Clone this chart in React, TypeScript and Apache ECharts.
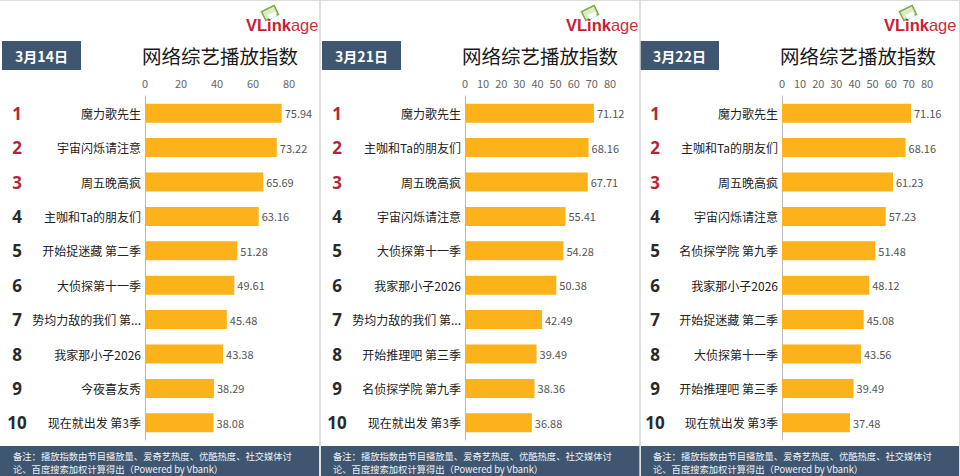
import React, { useEffect, useRef } from "react";
import * as echarts from "echarts";

const dates = ["3月14日", "3月21日", "3月22日"];
const ranks = ["1", "2", "3", "4", "5", "6", "7", "8", "9", "10"];

const names14 = ["魔力歌先生", "宇宙闪烁请注意", "周五晚高疯", "主咖和Ta的朋友们", "开始捉迷藏 第二季", "大侦探第十一季", "势均力敌的我们 第...", "我家那小子2026", "今夜喜友秀", "现在就出发 第3季"];
const values14 = [75.94, 73.22, 65.69, 63.16, 51.28, 49.61, 45.48, 43.38, 38.29, 38.08];

const names21 = ["魔力歌先生", "主咖和Ta的朋友们", "周五晚高疯", "宇宙闪烁请注意", "大侦探第十一季", "我家那小子2026", "势均力敌的我们 第...", "开始推理吧 第三季", "名侦探学院 第九季", "现在就出发 第3季"];
const values21 = [71.12, 68.16, 67.71, 55.41, 54.28, 50.38, 42.49, 39.49, 38.36, 36.88];

const names22 = ["魔力歌先生", "主咖和Ta的朋友们", "周五晚高疯", "宇宙闪烁请注意", "名侦探学院 第九季", "我家那小子2026", "开始捉迷藏 第二季", "大侦探第十一季", "开始推理吧 第三季", "现在就出发 第3季"];
const values22 = [71.16, 68.16, 61.23, 57.23, 51.48, 48.12, 45.08, 43.56, 39.49, 37.48];

const xMax = 80;
const tickIntervals = [20, 10, 10];
const title = "网络综艺播放指数";
const noteLine1 = "备注：播放指数由节目播放量、爱奇艺热度、优酷热度、社交媒体讨";
const noteLine2 = "论、百度搜索加权计算得出（Powered by Vbank）";

const panelNames = [names14, names21, names22];
const panelValues = [values14, values21, values22];

const CJK = "'Noto Sans CJK SC', 'Noto Sans', sans-serif";
const SLATE = "#3e5670";

export default function App() {
  const ref = useRef<HTMLDivElement>(null);
  useEffect(() => {
    document.body.style.margin = "0";
    const chart = echarts.init(ref.current!, null, { renderer: "svg" });
    const offsets = [0, 320, 640];
    const gridLefts = [145, 465, 782];
    const gridWidths = [144, 145, 145];
    const rankX = [17, 337, 655];
    const tagRects = [[2, 79], [322, 79], [640, 79]];
    const titleX = [142, 462, 780];
    const logoX = [246, 566, 884];

    const grid: any[] = [];
    const xAxis: any[] = [];
    const yAxis: any[] = [];
    const series: any[] = [];
    const graphic: any[] = [];

    for (let i = 0; i < 3; i++) {
      grid.push({ left: gridLefts[i], width: gridWidths[i], top: 96, height: 344 });
      xAxis.push({
        gridIndex: i,
        type: "value",
        position: "top",
        min: 0,
        max: xMax,
        interval: tickIntervals[i],
        axisLine: { show: false },
        axisTick: { show: false },
        splitLine: { show: false },
        axisLabel: { fontSize: 11, color: "#666", margin: 8, fontFamily: CJK },
      });
      yAxis.push({
        gridIndex: i,
        type: "category",
        inverse: true,
        data: panelNames[i],
        axisLine: { show: true, lineStyle: { color: "#b8b8b8", width: 1 } },
        axisTick: { show: false },
        axisLabel: { fontSize: 12, color: "#222", margin: 4, fontFamily: CJK },
      });
      yAxis.push({
        gridIndex: i,
        type: "category",
        inverse: true,
        position: "left",
        data: ranks,
        axisLine: { show: false },
        axisTick: { show: false },
        axisLabel: {
          fontSize: 17,
          fontWeight: "bold",
          align: "center",
          margin: gridLefts[i] - rankX[i],
          fontFamily: "'Open Sans', 'Noto Sans', sans-serif",
          color: (_v: any, idx: number) => (idx < 3 ? "#b3253a" : "#2a2a2a"),
        },
      });
      series.push({
        type: "bar",
        xAxisIndex: i,
        yAxisIndex: i * 2,
        data: panelValues[i],
        barWidth: 19,
        itemStyle: { color: "#fbb21b" },
        label: {
          show: true,
          position: "right",
          distance: 3,
          fontSize: 11,
          color: "#555",
          fontFamily: CJK,
          formatter: (p: any) => Number(p.value).toFixed(2),
        },
      });

      const ox = offsets[i];
      graphic.push({
        type: "rect",
        shape: { x: tagRects[i][0], y: 41, width: tagRects[i][1], height: 29 },
        style: { fill: SLATE },
      });
      graphic.push({
        type: "text",
        x: tagRects[i][0] + tagRects[i][1] / 2,
        y: 55.5,
        style: {
          text: dates[i],
          fill: "#ffffff",
          font: `bold 14px ${CJK}`,
          textAlign: "center",
          textVerticalAlign: "middle",
        },
      });
      graphic.push({
        type: "text",
        x: titleX[i],
        y: 55,
        style: {
          text: title,
          fill: "#1a1a1a",
          font: `19.5px ${CJK}`,
          textAlign: "left",
          textVerticalAlign: "middle",
        },
      });
      graphic.push({
        type: "rect",
        x: logoX[i] + 24,
        y: 13,
        rotation: 0.45,
        shape: { x: -7, y: -5, width: 14, height: 10 },
        style: { fill: "#dcebc4", stroke: "#7aa84a", lineWidth: 1.5 },
      });
      graphic.push({
        type: "rect",
        x: logoX[i] + 26,
        y: 15,
        rotation: 0.45,
        shape: { x: -4, y: -2, width: 8, height: 5 },
        style: { fill: "#ffffff" },
      });
      graphic.push({
        type: "text",
        x: logoX[i],
        y: 25,
        style: {
          text: "{a|VLink}{b|age}",
          textVerticalAlign: "middle",
          rich: {
            a: { fill: "#c8202f", font: "bold 16.5px 'Liberation Sans', Arial, sans-serif" },
            b: { fill: "#cc3038", font: "16.5px 'Liberation Sans', Arial, sans-serif" },
          },
        },
      });
      graphic.push({
        type: "rect",
        shape: { x: ox + (i === 0 ? 0 : 1), y: 446, width: 319, height: 30 },
        style: { fill: SLATE },
      });
      graphic.push({
        type: "text",
        x: ox + 13,
        y: 455.8,
        style: { text: noteLine1, fill: "#eef2f6", font: `9.3px ${CJK}`, textVerticalAlign: "middle" },
      });
      graphic.push({
        type: "text",
        x: ox + 13,
        y: 469.4,
        style: { text: noteLine2, fill: "#eef2f6", font: `9.3px ${CJK}`, textVerticalAlign: "middle" },
      });
    }
    graphic.push({ type: "line", shape: { x1: 0, y1: 0.5, x2: 960, y2: 0.5 }, style: { stroke: "#dddddd", lineWidth: 1 } });
    graphic.push({ type: "line", shape: { x1: 320, y1: 0, x2: 320, y2: 476 }, style: { stroke: "#d6d6d6", lineWidth: 1.5 } });
    graphic.push({ type: "line", shape: { x1: 640, y1: 0, x2: 640, y2: 476 }, style: { stroke: "#d6d6d6", lineWidth: 1.5 } });
    graphic.push({ type: "line", shape: { x1: 959.5, y1: 0, x2: 959.5, y2: 476 }, style: { stroke: "#dddddd", lineWidth: 1 } });

    chart.setOption({
      animation: false,
      backgroundColor: "#ffffff",
      grid,
      xAxis,
      yAxis,
      series,
      graphic,
    });
    return () => chart.dispose();
  }, []);
  return <div ref={ref} style={{ position: "absolute", left: 0, top: 0, width: 960, height: 476 }} />;
}
